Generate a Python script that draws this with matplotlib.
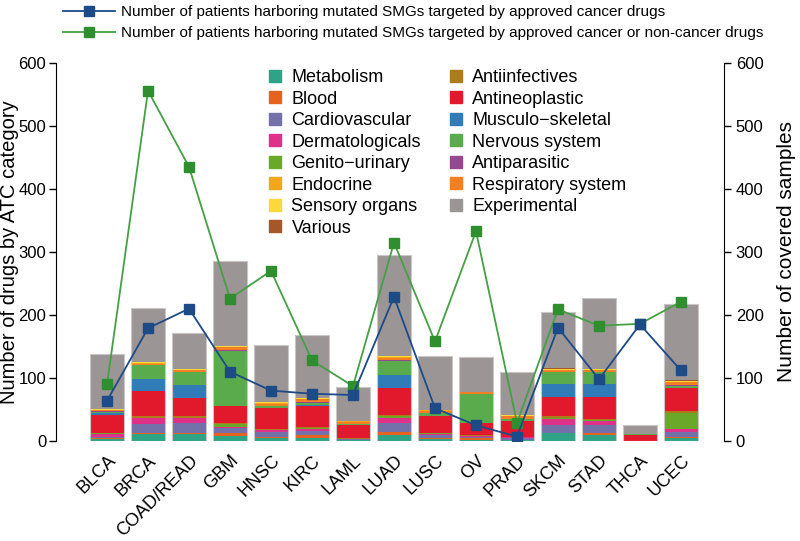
import numpy as np
import matplotlib
matplotlib.use('Agg')
import matplotlib.pyplot as plt
from matplotlib.lines import Line2D

plt.rcParams['font.family'] = ['Liberation Sans', 'DejaVu Sans']

# data
cancers = ['BLCA', 'BRCA', 'COAD/READ', 'GBM', 'HNSC', 'KIRC', 'LAML', 'LUAD',
           'LUSC', 'OV', 'PRAD', 'SKCM', 'STAD', 'THCA', 'UCEC']

# drugs by ATC category (left axis)
metabolism     = [3, 11, 11, 8, 4, 4, 2, 10, 3, 2, 1, 12, 10, 0, 4]
blood          = [1, 2, 2, 4, 2, 5, 0, 4, 2, 2, 1, 1, 2, 0, 2]
cardiovascular = [3, 14, 16, 8, 8, 7, 1, 15, 4, 3, 3, 13, 13, 0, 9]
dermatological = [4, 9, 7, 2, 3, 3, 0, 7, 2, 1, 1, 9, 6, 0, 4]
genito_urinary = [1, 1, 1, 5, 1, 2, 0, 3, 1, 0, 1, 2, 2, 0, 26]
antiinfectives = [1, 2, 2, 1, 1, 2, 1, 2, 1, 1, 0, 2, 2, 0, 2]
antineoplastic = [29, 40, 30, 28, 33, 32, 22, 43, 26, 20, 24, 31, 35, 10, 37]
musculo        = [2, 20, 20, 0, 0, 2, 0, 21, 1, 0, 0, 20, 20, 0, 0]
nervous        = [2, 21, 20, 87, 3, 4, 1, 22, 4, 46, 4, 19, 19, 1, 4]
antiparasitic  = [1, 0, 0, 1, 0, 1, 0, 2, 0, 0, 0, 0, 0, 0, 1]
respiratory    = [2, 3, 4, 5, 4, 4, 3, 3, 4, 3, 4, 3, 3, 0, 5]
endocrine      = [1, 1, 0, 0, 1, 1, 1, 1, 1, 0, 1, 0, 0, 0, 0]
sensory        = [1, 2, 2, 2, 2, 1, 0, 2, 1, 0, 1, 2, 2, 0, 1]
various        = [0, 0, 0, 0, 0, 0, 0, 0, 0, 0, 0, 2, 0, 0, 2]
experimental   = [87, 85, 57, 134, 91, 100, 54, 160, 85, 56, 68, 89, 113, 14, 120]

# covered samples (right axis)
cancer_only = [64, 179, 210, 110, 80, 75, 73, 229, 52, 25, 7, 180, 98, 185, 112]
any_drug    = [90, 556, 435, 226, 270, 128, 87, 315, 158, 333, 29, 209, 183, 186, 221]

# stacking order, bottom to top
stack = [
    ('Metabolism', metabolism, '#2fa386'),
    ('Blood', blood, '#e5621f'),
    ('Cardiovascular', cardiovascular, '#7470a9'),
    ('Dermatologicals', dermatological, '#e0318a'),
    ('Genito\u2212urinary', genito_urinary, '#6aa82a'),
    ('Antiinfectives', antiinfectives, '#ad7a1c'),
    ('Antineoplastic', antineoplastic, '#e2192c'),
    ('Musculo\u2212skeletal', musculo, '#2f7cb8'),
    ('Nervous system', nervous, '#5aab4b'),
    ('Antiparasitic', antiparasitic, '#95488f'),
    ('Respiratory system', respiratory, '#f47f22'),
    ('Endocrine', endocrine, '#f2a61b'),
    ('Sensory organs', sensory, '#fcd93b'),
    ('Various', various, '#a5572a'),
    ('Experimental', experimental, '#9b9595'),
]
legend_order = ['Metabolism', 'Blood', 'Cardiovascular', 'Dermatologicals',
                'Genito\u2212urinary', 'Endocrine', 'Sensory organs', 'Various',
                'Antiinfectives', 'Antineoplastic', 'Musculo\u2212skeletal',
                'Nervous system', 'Antiparasitic', 'Respiratory system', 'Experimental']

fig = plt.figure(figsize=(8, 5.41), dpi=100)
ax = fig.add_axes([56/800, 100/541, (724-56)/800, 378/541])
x = np.arange(len(cancers))
w = 0.84

bottom = np.zeros(len(cancers))
colors = {}
for name, vals, col in stack:
    ax.bar(x, vals, w, bottom=bottom, color=col, linewidth=0)
    bottom += np.array(vals)
    colors[name] = col
ax.bar(x, bottom, w, fill=False, edgecolor='#c9c6c6', linewidth=0.8)

ax.set_xlim(-1.245, 15.05)
ax.set_ylim(0, 600)
ax.set_yticks(range(0, 601, 100))
ax.set_xticks(x)
ax.set_xticklabels(cancers, rotation=45, ha='right', rotation_mode='anchor', fontsize=13)
ax.tick_params(axis='x', length=0, pad=8)
ax.tick_params(axis='y', labelsize=12, length=5, width=1, pad=2)
for s in ['top', 'right', 'bottom']:
    ax.spines[s].set_visible(False)
ax.set_ylabel('Number of drugs by ATC category', fontsize=14.5)
ax.yaxis.set_label_coords((19 - 56) / 668, 0.5)

ax2 = ax.twinx()
ax2.set_ylim(0, 600)
ax2.set_yticks(range(0, 601, 100))
ax2.tick_params(axis='y', labelsize=12, length=5, width=1)
for s in ['top', 'left', 'bottom']:
    ax2.spines[s].set_visible(False)
ax2.set_ylabel('Number of covered samples', fontsize=15)
ax2.yaxis.set_label_coords((777 - 56) / 668, 0.5)

l1, = ax2.plot(x, cancer_only, color='#1d4b88', lw=1.3, marker='s', ms=7,
               label='Number of patients harboring mutated SMGs targeted by approved cancer drugs')
l2, = ax2.plot(x, any_drug, color='#45a045', lw=1.3, marker='s', ms=7,
               markerfacecolor='#2f8f2f', markeredgecolor='#2f8f2f',
               label='Number of patients harboring mutated SMGs targeted by approved cancer or non-cancer drugs')
l1.set_zorder(3)

# category legend
handles = [Line2D([], [], linestyle='none', marker='s', ms=8, color=colors[n]) for n in legend_order]
ax2.legend(handles, legend_order, ncol=2, loc='upper left', bbox_to_anchor=(268/800, 1 - 69/541),
           bbox_transform=fig.transFigure, frameon=False, fontsize=13, handlelength=0.8,
           handletextpad=0.5, labelspacing=0.25, columnspacing=1.55, borderaxespad=0, borderpad=0)

# line legend above the plot
fig.legend([l1, l2], [l1.get_label(), l2.get_label()], loc='upper left',
           bbox_to_anchor=(54/800, 1.0 + 4/541), frameon=False, fontsize=11,
           handlelength=3.4, handletextpad=0.4, labelspacing=0.45, borderpad=0.1)

plt.savefig('out.png', dpi=100)
